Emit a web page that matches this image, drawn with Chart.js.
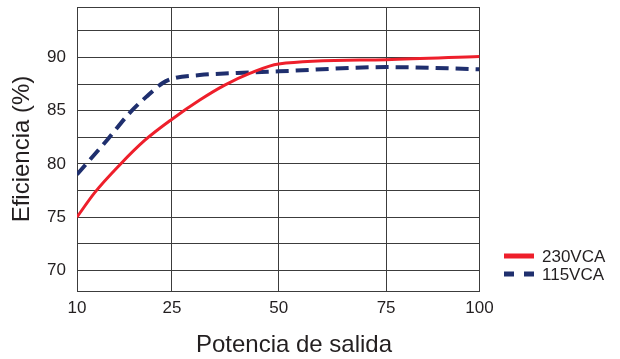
<!DOCTYPE html>
<html>
<head>
<meta charset="utf-8">
<script src="https://cdn.jsdelivr.net/npm/chart.js@4/dist/chart.umd.min.js"></script>
<style>
  html, body { margin: 0; padding: 0; background: #fff; }
  #wrap { width: 620px; height: 359px; }
</style>
</head>
<body>
<div id="wrap"><canvas id="chart"></canvas></div>
<script>
// x axis is not linear in power: ticks sit at these positions (0-100 across the plot)
const xTickLabels = ['10', '25', '50', '75', '100'];
const xTickPos = [0, 23.6, 50.1, 76.8, 100];
const xTitle = 'Potencia de salida';

const yTicks = [68.05, 70, 72.5, 75, 77.5, 80, 82.5, 85, 87.5, 90, 92.5, 94.75];

// 230VCA curve
const pos230 = [0, 4.4, 10.6, 16.8, 23.6, 30.5, 36.7, 42.9, 50.1, 76.8, 100];
const eff230 = [75.0, 77.3, 79.9, 82.2, 84.2, 86.0, 87.4, 88.5, 89.4, 89.8, 90.1];

// 115VCA curve
const pos115 = [0, 7.6, 13.1, 17.2, 21.3, 23.6, 30.5, 42.9, 50.1, 76.8, 100];
const eff115 = [79.0, 82.3, 84.8, 86.3, 87.6, 88.0, 88.35, 88.6, 88.7, 89.1, 88.9];

const font = 'Liberation Sans, Arial, Helvetica, sans-serif';
const textColor = '#231f20';
const gridColor = '#3c3c3c';

function toPoints(xs, ys) {
  return xs.map((x, i) => ({x: x, y: ys[i]}));
}

// legend and x title drawn by hand (both sit off-centre in the original)
const sideLegend = {
  id: 'sideLegend',
  afterDraw(chart) {
    const ctx = chart.ctx;
    const rows = [256, 274];
    ctx.save();
    chart.data.datasets.forEach((ds, i) => {
      const y = rows[i];
      ctx.beginPath();
      ctx.lineWidth = 5;
      ctx.strokeStyle = ds.borderColor;
      ctx.setLineDash(ds.borderDash ? [10, 10] : []);
      ctx.moveTo(504, y);
      ctx.lineTo(534, y);
      ctx.stroke();
      ctx.setLineDash([]);
      ctx.fillStyle = textColor;
      ctx.font = '17px ' + font;
      ctx.textAlign = 'left';
      ctx.textBaseline = 'middle';
      ctx.fillText(ds.label, 542, y + 1);
    });
    ctx.font = '24px ' + font;
    ctx.textAlign = 'center';
    ctx.textBaseline = 'alphabetic';
    ctx.fillText(xTitle, 294, 351.5);
    ctx.restore();
  }
};

const ctx = document.getElementById('chart').getContext('2d');
const chart = new Chart(ctx, {
  type: 'line',
  data: {
    datasets: [{
      label: '230VCA',
      data: toPoints(pos230, eff230),
      borderColor: '#ee1f2b',
      borderWidth: 3,
      pointRadius: 0,
      cubicInterpolationMode: 'monotone',
      fill: false
    }, {
      label: '115VCA',
      data: toPoints(pos115, eff115),
      borderColor: '#1f2f6e',
      borderWidth: 4,
      borderDash: [13, 7],
      borderCapStyle: 'butt',
      pointRadius: 0,
      cubicInterpolationMode: 'monotone',
      fill: false
    }]
  },
  options: {
    animation: false,
    responsive: true,
    maintainAspectRatio: false,
    layout: { padding: { left: 0, right: 140.5, top: 7, bottom: 0 } },
    plugins: {
      legend: { display: false },
      tooltip: { enabled: false }
    },
    scales: {
      x: {
        type: 'linear',
        min: 0,
        max: 100,
        afterBuildTicks: (scale) => { scale.ticks = xTickPos.map(v => ({value: v})); },
        afterFit: (scale) => {
          scale.height = 68;
          scale.paddingLeft = 0;
          scale.paddingRight = 0;
        },
        ticks: {
          color: textColor,
          font: { family: font, size: 17 },
          padding: 7,
          maxRotation: 0,
          autoSkip: false,
          callback: (v) => {
            const i = xTickPos.indexOf(v);
            return i >= 0 ? xTickLabels[i] : '';
          }
        },
        grid: { color: gridColor, lineWidth: 1, drawTicks: false },
        border: { color: gridColor, width: 1 },
        title: { display: false }
      },
      y: {
        type: 'linear',
        min: 68.05,
        max: 94.75,
        afterBuildTicks: (scale) => { scale.ticks = yTicks.map(v => ({value: v})); },
        afterFit: (scale) => {
          scale.width = 77;
          scale.paddingTop = 0;
          scale.paddingBottom = 0;
        },
        ticks: {
          color: textColor,
          font: { family: font, size: 17 },
          padding: 11,
          autoSkip: false,
          callback: (v) => (v % 5 === 0 ? String(v) : '')
        },
        grid: { color: gridColor, lineWidth: 1, drawTicks: false },
        border: { color: gridColor, width: 1 },
        title: {
          display: true,
          text: 'Eficiencia (%)',
          color: textColor,
          font: { family: font, size: 24 },
          padding: { top: 8, bottom: 0 }
        }
      }
    }
  },
  plugins: [sideLegend]
});
</script>
</body>
</html>
